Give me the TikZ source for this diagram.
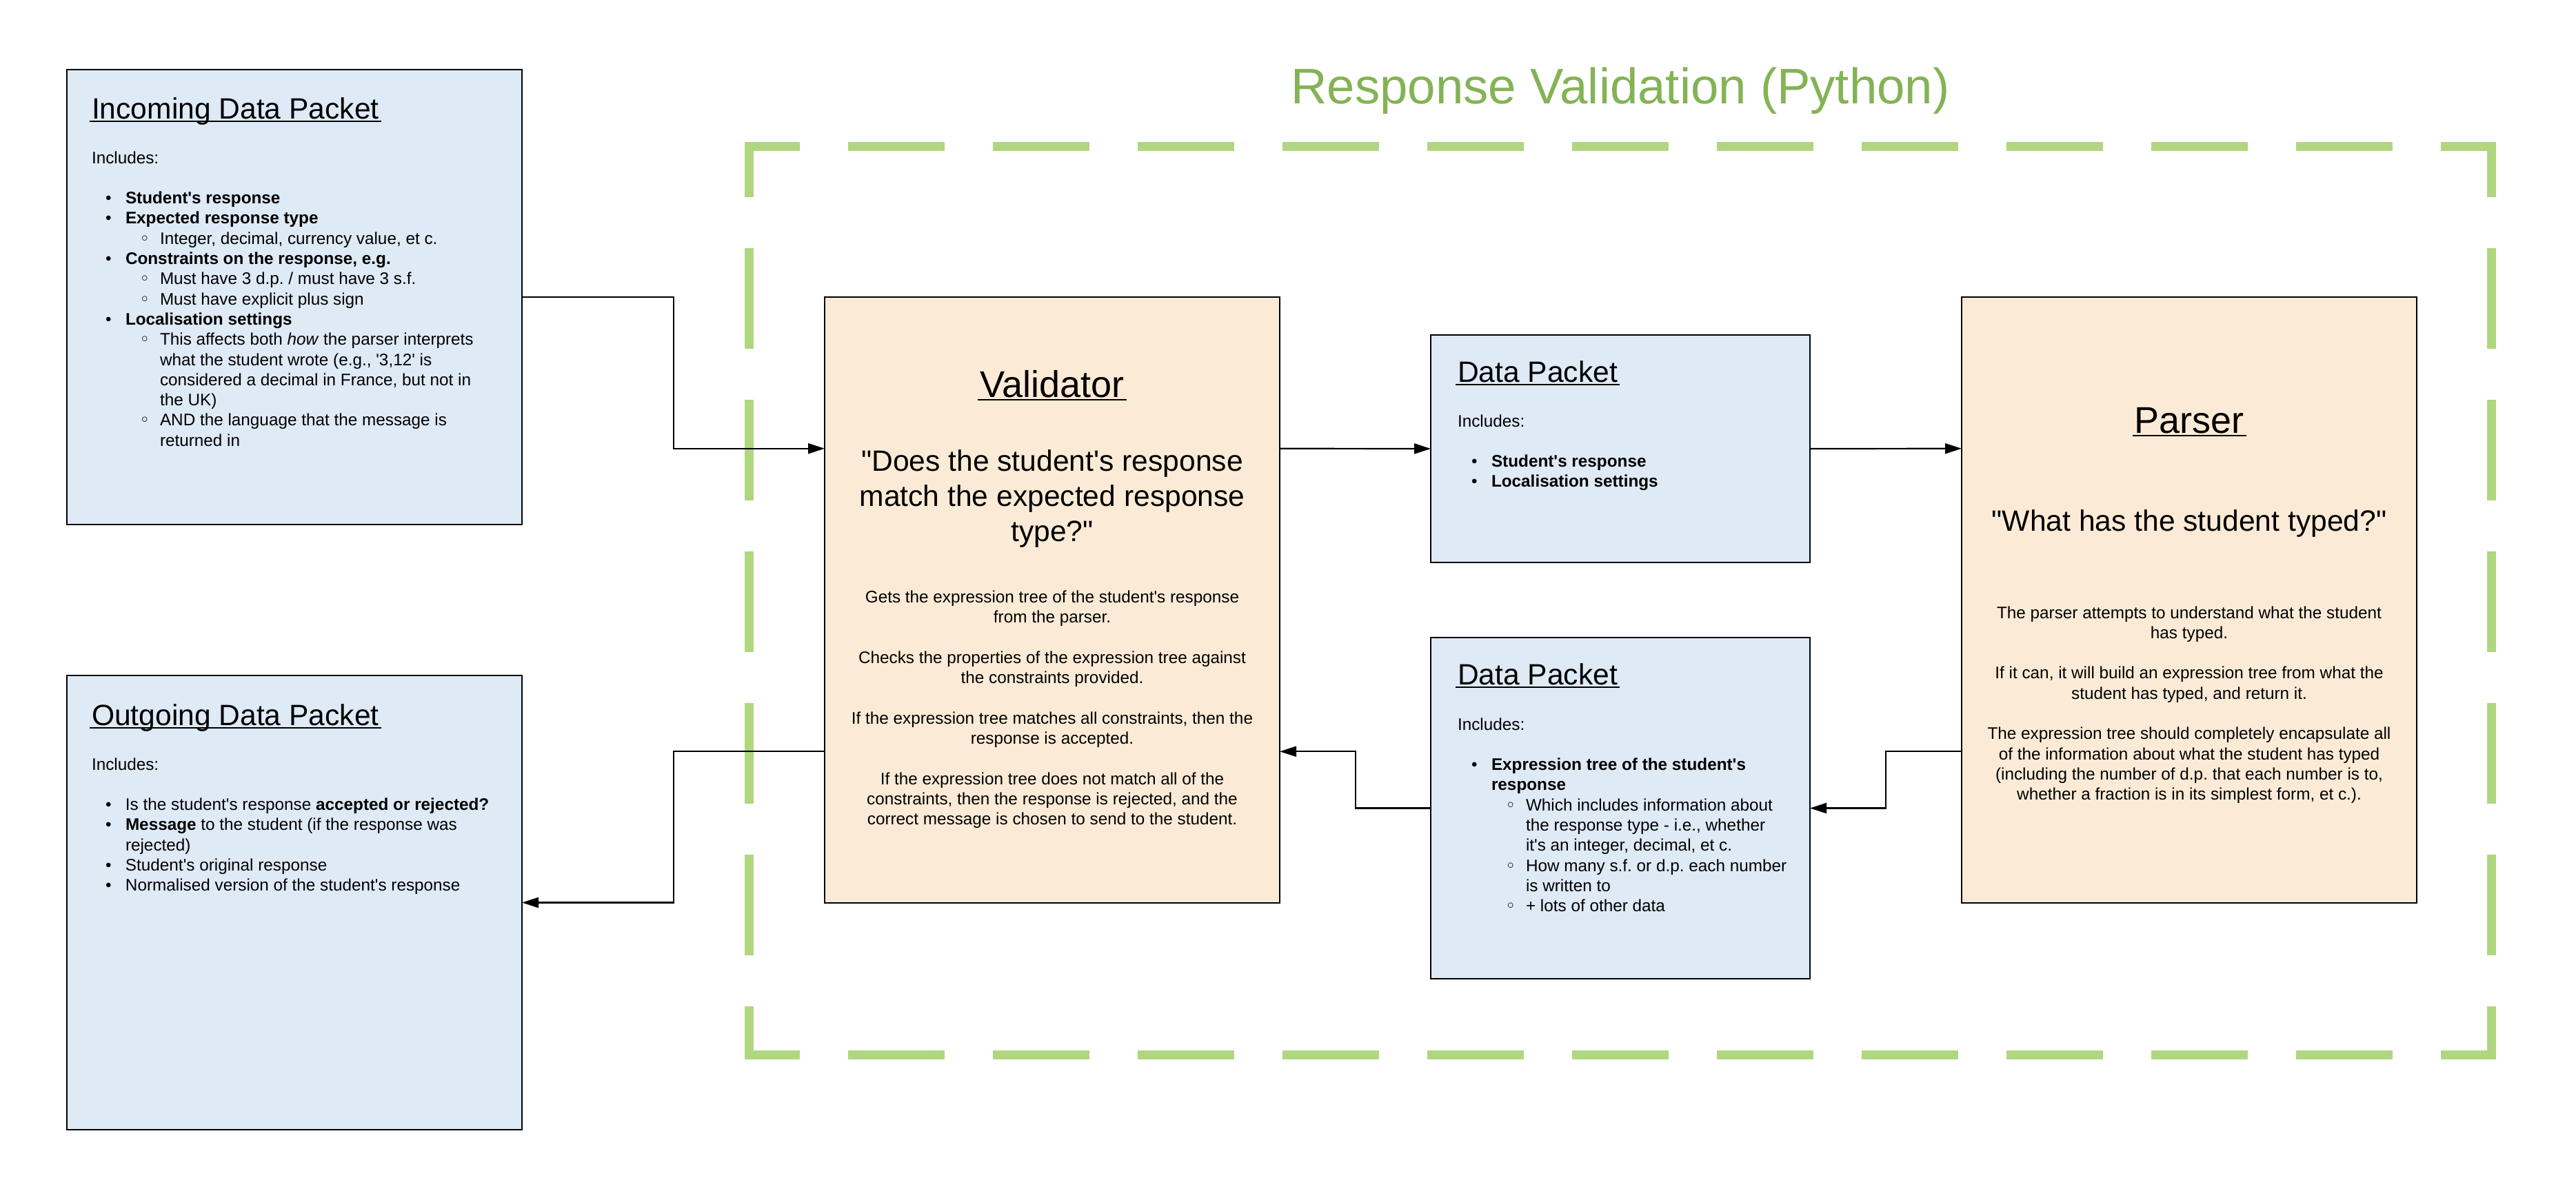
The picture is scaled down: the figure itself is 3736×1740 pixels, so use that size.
\documentclass[tikz,border=0pt]{standalone}
\usepackage{fontspec}
\setmainfont{Liberation Sans}[Ligatures=TeXOff]
\newfontfamily\dejavu{DejaVu Sans}
\usetikzlibrary{arrows.meta,calc}
\definecolor{boxblue}{HTML}{DEEAF6}
\definecolor{boxorange}{HTML}{FBEBD6}
\definecolor{frameGreen}{HTML}{B0D680}
\definecolor{titleGreen}{HTML}{84B356}
\frenchspacing
% underline with a small overhang
\newcommand\ulx[1]{\setbox0=\hbox{#1}\rlap{\kern-3pt\rule[-5pt]{\dimexpr\wd0+6pt\relax}{2.4pt}}\box0}
% list helpers
\newcommand\bul{\hspace*{20pt}\makebox[29pt][l]{•}}
\newcommand\sbul{\hspace*{70pt}\makebox[29pt][l]{\raisebox{1pt}{\dejavu\bfseries\fontsize{21}{21}\selectfont ◦}}}
\newcommand\icont{\hspace*{49pt}}
\newcommand\scont{\hspace*{99pt}}
% text blocks whose baseline is the first line's baseline
\newcommand\lblock[1]{\vtop{\halign{##\hfil\cr#1\crcr}}}
\newcommand\cblock[1]{\vtop{\halign{\hfil##\hfil\cr#1\crcr}}}
\begin{document}
\begin{tikzpicture}[x=1pt,y=-1pt,
  pbox/.style={draw=black, line width=2.6pt, inner sep=0pt, outer sep=0pt},
  bluebox/.style={pbox, fill=boxblue},
  orangebox/.style={pbox, fill=boxorange},
  txt/.style={inner sep=0pt, outer sep=0pt, text=black},
  body/.style={txt, font=\fontsize{24.3}{29.3}\selectfont},
  ptitle/.style={txt, font=\fontsize{42.6}{50}\selectfont},
  btitle/.style={txt, font=\fontsize{54}{60}\selectfont},
  quotetxt/.style={txt, font=\fontsize{42.6}{51}\selectfont},
  conn/.style={draw=black, line width=2.2pt, -{Triangle[length=24pt,width=15pt]}},
  frameH/.style={draw=frameGreen, line width=13pt, line cap=rect, dash pattern=on 127pt off 83pt, dash phase=60.5pt},
  frameV/.style={draw=frameGreen, line width=13pt, line cap=rect, dash pattern=on 133pt off 87pt, dash phase=66.5pt}
]
\fill[white] (0,0) rectangle (3736,1740);
\useasboundingbox (0,0) rectangle (3736,1740);

% ---------- dashed frame ----------
\coordinate (f1) at (1086.5,212.5);
\coordinate (f2) at (3613.5,212.5);
\coordinate (f3) at (3613.5,1530.5);
\coordinate (f4) at (1086.5,1530.5);
\draw[frameH] (f1) -- (f2);
\draw[frameH] (f4) -- (f3);
\draw[frameV] (f1) -- (f4);
\draw[frameV] (f2) -- (f3);

\node[txt, anchor=base, text=titleGreen, font=\fontsize{72.6}{80}\selectfont] (ttl) at (2350,150) {Response Validation (Python)};

% ---------- boxes ----------
\node[bluebox, minimum width=660pt, minimum height=660pt] (inc) at (427,431) {};
\node[bluebox, minimum width=660pt, minimum height=659pt] (out) at (427,1309.5) {};
\node[orangebox, minimum width=660pt, minimum height=879pt] (val) at (1526,870.5) {};
\node[bluebox, minimum width=550pt, minimum height=330pt] (dp1) at (2350,651) {};
\node[bluebox, minimum width=550pt, minimum height=495pt] (dp2) at (2350,1172.5) {};
\node[orangebox, minimum width=660pt, minimum height=879pt] (par) at (3175,870.5) {};

% ---------- incoming ----------
\node[ptitle, anchor=base west] (incT) at (133,172) {\ulx{Incoming Data Packet}};
\node[body, anchor=base west] (incB) at (133,237) {\lblock{%
Includes:\cr
\cr
\bul\textbf{Student's response}\cr
\bul\textbf{Expected response type}\cr
\sbul Integer, decimal, currency value, et c.\cr
\bul\textbf{Constraints on the response, e.g.}\cr
\sbul Must have 3 d.p. / must have 3 s.f.\cr
\sbul Must have explicit plus sign\cr
\bul\textbf{Localisation settings}\cr
\sbul This affects both \textit{how} the parser interprets\cr
\scont what the student wrote (e.g., '3,12' is\cr
\scont considered a decimal in France, but not in\cr
\scont the UK)\cr
\sbul AND the language that the message is\cr
\scont returned in\cr}};

% ---------- outgoing ----------
\node[ptitle, anchor=base west] (outT) at (133,1052) {\ulx{Outgoing Data Packet}};
\node[body, anchor=base west] (outB) at (133,1117) {\lblock{%
Includes:\cr
\cr
\bul Is the student's response \textbf{accepted or rejected?}\cr
\bul\textbf{Message} to the student (if the response was\cr
\icont rejected)\cr
\bul Student's original response\cr
\bul Normalised version of the student's response\cr}};

% ---------- validator ----------
\node[btitle, anchor=base] (valT) at (1526,576) {\ulx{Validator}};
\node[quotetxt, anchor=base] (valQ) at (1526,683) {\cblock{%
"Does the student's response\cr
match the expected response\cr
type?"\cr}};
\node[body, anchor=base] (valB) at (1526,874.5) {\cblock{%
Gets the expression tree of the student's response\cr
from the parser.\cr
\cr
Checks the properties of the expression tree against\cr
the constraints provided.\cr
\cr
If the expression tree matches all constraints, then the\cr
response is accepted.\cr
\cr
If the expression tree does not match all of the\cr
constraints, then the response is rejected, and the\cr
correct message is chosen to send to the student.\cr}};

% ---------- data packet 1 ----------
\node[ptitle, anchor=base west] (dp1T) at (2114,554) {\ulx{Data Packet}};
\node[body, anchor=base west] (dp1B) at (2114,619) {\lblock{%
Includes:\cr
\cr
\bul\textbf{Student's response}\cr
\bul\textbf{Localisation settings}\cr}};

% ---------- data packet 2 ----------
\node[ptitle, anchor=base west] (dp2T) at (2114,993) {\ulx{Data Packet}};
\node[body, anchor=base west] (dp2B) at (2114,1059) {\lblock{%
Includes:\cr
\cr
\bul\textbf{Expression tree of the student's}\cr
\icont\textbf{response}\cr
\sbul Which includes information about\cr
\scont the response type - i.e., whether\cr
\scont it's an integer, decimal, et c.\cr
\sbul How many s.f. or d.p. each number\cr
\scont is written to\cr
\sbul + lots of other data\cr}};

% ---------- parser ----------
\node[btitle, anchor=base] (parT) at (3175,628) {\ulx{Parser}};
\node[quotetxt, anchor=base] (parQ) at (3175,770) {"What has the student typed?"};
\node[body, anchor=base] (parB) at (3175,897) {\cblock{%
The parser attempts to understand what the student\cr
has typed.\cr
\cr
If it can, it will build an expression tree from what the\cr
student has typed, and return it.\cr
\cr
The expression tree should completely encapsulate all\cr
of the information about what the student has typed\cr
(including the number of d.p. that each number is to,\cr
whether a fraction is in its simplest form, et c.).\cr}};

% ---------- connectors ----------
\coordinate (xL) at (977,0);
\coordinate (xM) at (1966,0);
\coordinate (xR) at (2735,0);
\coordinate (vw1) at ($(val.north west)!0.25!(val.south west)$);
\coordinate (vw3) at ($(val.north west)!0.75!(val.south west)$);
\coordinate (ve1) at ($(val.north east)!0.25!(val.south east)$);
\coordinate (ve3) at ($(val.north east)!0.75!(val.south east)$);
\coordinate (pw1) at ($(par.north west)!0.25!(par.south west)$);
\coordinate (pw3) at ($(par.north west)!0.75!(par.south west)$);

\draw[conn] (inc.east) -- (inc.east -| xL) |- (vw1);
\draw[conn] (ve1) -- (dp1.west);
\draw[conn] (dp1.east) -- (pw1);
\draw[conn] (pw3) -- (pw3 -| xR) |- (dp2.east);
\draw[conn] (dp2.west) -- (dp2.west -| xM) |- (ve3);
\draw[conn] (vw3) -- (vw3 -| xL) |- (out.east);
\end{tikzpicture}
\end{document}
